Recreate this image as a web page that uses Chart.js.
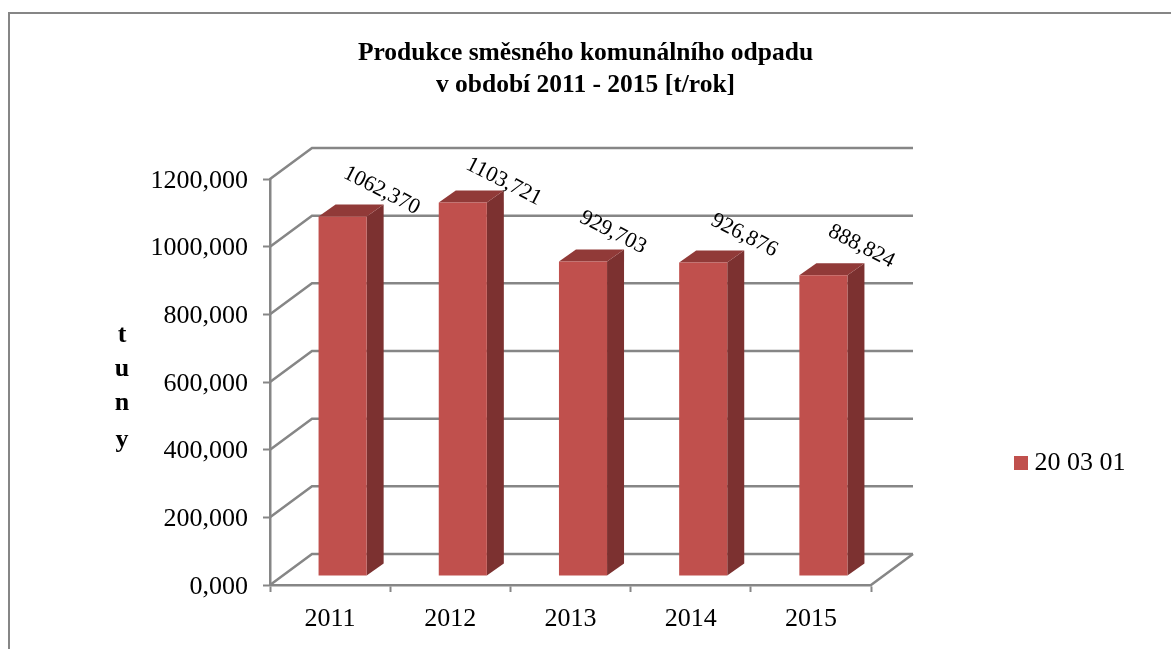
<!DOCTYPE html>
<html>
<head>
<meta charset="utf-8">
<title>Produkce směsného komunálního odpadu</title>
<script src="https://cdn.jsdelivr.net/npm/chart.js@4"></script>
<style>
  html, body { margin: 0; padding: 0; background: #fff; overflow: hidden; }
  #wrap { position: relative; width: 1171px; height: 649px; }
  #frame { position: absolute; left: 8px; top: 12px; right: 0; bottom: 0; border-top: 2px solid #868686; border-left: 2px solid #868686; }
  canvas { position: absolute; left: 0; top: 0; }
</style>
</head>
<body>
<div id="wrap">
  <div id="frame"></div>
  <canvas id="chart" width="1171" height="649"></canvas>
</div>
<script>
const years = ['2011', '2012', '2013', '2014', '2015'];
const seriesName = '20 03 01';
const tons = [1062.370, 1103.721, 929.703, 926.876, 888.824];
const titleLines = ['Produkce směsného komunálního odpadu', 'v období 2011 - 2015 [t/rok]'];
const axisLetters = ['t', 'u', 'n', 'y'];

const SERIF = '"Liberation Serif", "Times New Roman", serif';
const GREY = '#868686';
const RED = '#C0504D', RED_SIDE = '#7C3130', RED_TOP = '#913A38';

// fake 3D: back wall offset and how far the bars stand off the front edge
const wall = { dx: 42, dy: -31 };
const barShift = { dx: 12.5, dy: -9 };
const barDepth = { dx: 17, dy: -12 };
const letterY = [335, 369, 403, 440];
const labelNudge = [[1, 0], [3, 5], [-8, -3], [3, -1], [0, -3]];

function formatValue(v) {
  return v.toFixed(3).replace('.', ',');
}

function poly(ctx, pts, color) {
  ctx.fillStyle = color;
  ctx.beginPath();
  pts.forEach((p, i) => i ? ctx.lineTo(p[0], p[1]) : ctx.moveTo(p[0], p[1]));
  ctx.closePath();
  ctx.fill();
}

const fake3d = {
  id: 'fake3d',
  beforeDatasetsDraw(chart) {
    const { ctx, chartArea: a, scales: { y } } = chart;
    ctx.save();
    ctx.strokeStyle = GREY;
    ctx.lineWidth = 2.5;
    // walls: each gridline runs back from the axis then across
    y.ticks.forEach(t => {
      const py = y.getPixelForValue(t.value);
      ctx.beginPath();
      ctx.moveTo(a.left, py);
      ctx.lineTo(a.left + wall.dx, py + wall.dy);
      ctx.lineTo(a.right + wall.dx, py + wall.dy);
      ctx.stroke();
    });
    // floor, right edge
    ctx.beginPath();
    ctx.moveTo(a.right, a.bottom);
    ctx.lineTo(a.right + wall.dx, a.bottom + wall.dy);
    ctx.stroke();

    // bar sides and tops, the fronts are the real bars
    chart.getDatasetMeta(0).data.forEach(bar => {
      const l = bar.x - bar.width / 2 + barShift.dx;
      const r = bar.x + bar.width / 2 + barShift.dx;
      const t = bar.y + barShift.dy;
      const b = bar.base + barShift.dy;
      poly(ctx, [[r, t], [r + barDepth.dx, t + barDepth.dy], [r + barDepth.dx, b + barDepth.dy], [r, b]], RED_SIDE);
      poly(ctx, [[l, t], [l + barDepth.dx, t + barDepth.dy], [r + barDepth.dx, t + barDepth.dy], [r, t]], RED_TOP);
    });
    ctx.restore();

    ctx.save();
    ctx.translate(barShift.dx, barShift.dy);
  },
  afterDatasetsDraw(chart) {
    const { ctx } = chart;
    ctx.restore();

    // value labels
    ctx.save();
    ctx.fillStyle = '#000';
    ctx.font = '22px ' + SERIF;
    ctx.textAlign = 'center';
    ctx.textBaseline = 'middle';
    chart.getDatasetMeta(0).data.forEach((bar, i) => {
      ctx.save();
      ctx.translate(bar.x + barShift.dx + 38 + labelNudge[i][0], bar.y + barShift.dy - 26 + labelNudge[i][1]);
      ctx.rotate(27 * Math.PI / 180);
      ctx.fillText(formatValue(tons[i]), 0, 0);
      ctx.restore();
    });

    // stacked axis title
    ctx.font = 'bold 26px ' + SERIF;
    axisLetters.forEach((ch, i) => ctx.fillText(ch, 122, letterY[i]));
    ctx.restore();
  }
};

// keep the legend out to the right, with a wide empty gap next to the plot
const legendPlace = {
  id: 'legendPlace',
  beforeLayout(chart) {
    const legend = chart.legend;
    if (legend.fitPatched) return;
    const fit = legend.fit;
    legend.fit = function () {
      fit.call(this);
      this.width = 300;
    };
    legend.fitPatched = true;
  },
  afterLayout(chart) {
    const legend = chart.legend;
    legend.left = 1010.5;
    legend.right = 1171;
    legend.top = 302;
    legend.bottom = 624;
  }
};

new Chart(document.getElementById('chart'), {
  type: 'bar',
  data: {
    labels: years,
    datasets: [{
      label: seriesName,
      data: tons,
      backgroundColor: RED,
      barPercentage: 0.4,
      categoryPercentage: 1,
      clip: false
    }]
  },
  options: {
    responsive: false,
    animation: false,
    layout: { padding: 0 },
    plugins: {
      tooltip: { enabled: false },
      title: {
        display: true,
        text: titleLines,
        color: '#000',
        font: { family: SERIF, size: 25.5, weight: 'bold', lineHeight: 1.255 },
        padding: { top: 37, bottom: 78 }
      },
      legend: {
        position: 'right',
        labels: {
          // thin box with a thick outline: the text then sits close to the square
          boxWidth: 1,
          boxHeight: 1,
          padding: 10,
          color: '#000',
          font: { family: SERIF, size: 26 },
          generateLabels: () => [{ text: seriesName, fillStyle: RED, strokeStyle: RED, lineWidth: 13, datasetIndex: 0 }]
        }
      }
    },
    scales: {
      x: {
        afterFit(s) { s.height = 64; },
        border: { color: GREY, width: 2.5 },
        grid: { drawOnChartArea: false, drawTicks: true, tickLength: 7, tickColor: GREY, tickWidth: 2 },
        ticks: { color: '#000', padding: 12, font: { family: SERIF, size: 26 }, maxRotation: 0 }
      },
      y: {
        min: 0,
        max: 1200,
        afterFit(s) { s.width = 270; },
        border: { color: GREY, width: 2.5 },
        grid: { drawOnChartArea: false, drawTicks: true, tickLength: 7, tickColor: GREY, tickWidth: 2 },
        ticks: {
          stepSize: 200,
          color: '#000',
          padding: 15,
          labelOffset: 2,
          font: { family: SERIF, size: 26 },
          callback: v => formatValue(v)
        }
      }
    }
  },
  plugins: [legendPlace, fake3d]
});
</script>
</body>
</html>
